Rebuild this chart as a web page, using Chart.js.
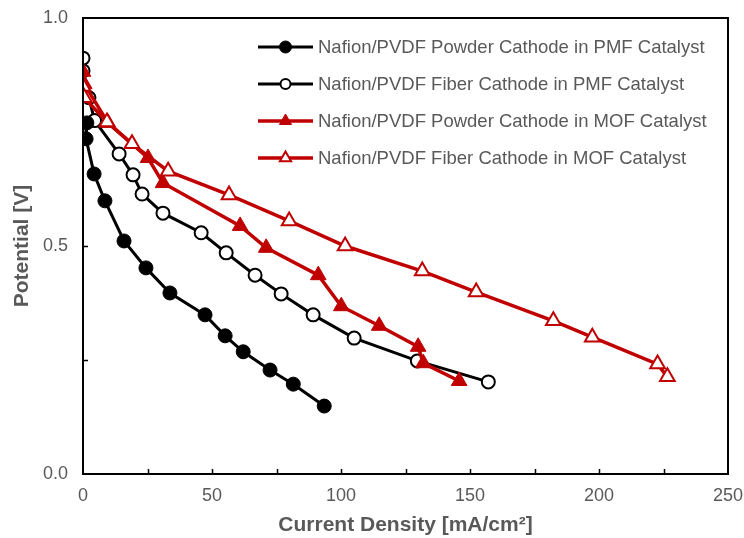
<!DOCTYPE html>
<html>
<head>
<meta charset="utf-8">
<script src="https://cdn.jsdelivr.net/npm/chart.js@4/dist/chart.umd.min.js"></script>
<style>
html,body{margin:0;padding:0;background:#fff;}
#wrap{width:744px;height:538px;position:relative;}
</style>
</head>
<body>
<div id="wrap"><canvas id="c" width="744" height="538"></canvas></div>
<script>
// ---- Data ----
const seriesLabels = [
  'Nafion/PVDF Powder Cathode in PMF Catalyst',
  'Nafion/PVDF Fiber Cathode in PMF Catalyst',
  'Nafion/PVDF Powder Cathode in MOF Catalyst',
  'Nafion/PVDF Fiber Cathode in MOF Catalyst'
];
const xPowderPMF = [1.5, 1.2, 4.3, 8.5, 15.9, 24.4, 33.7, 47.3, 55.1, 62.1, 72.5, 81.5, 93.5];
const yPowderPMF = [0.770, 0.735, 0.658, 0.599, 0.511, 0.452, 0.397, 0.349, 0.303, 0.268, 0.228, 0.197, 0.149];

const xFiberPMF = [0, 0, 2.3, 4.5, 14.0, 19.4, 22.9, 31.0, 45.8, 55.5, 66.7, 76.8, 89.2, 105.1, 129.6, 157.1];
const yFiberPMF = [0.912, 0.884, 0.825, 0.775, 0.702, 0.656, 0.614, 0.572, 0.529, 0.485, 0.436, 0.395, 0.349, 0.298, 0.248, 0.202];

const xPowderMOF = [0, 0.5, 9.7, 25.2, 31.0, 60.9, 71.0, 91.2, 100.1, 114.8, 129.9, 131.9, 145.8];
const yPowderMOF = [0.882, 0.855, 0.770, 0.693, 0.638, 0.544, 0.496, 0.436, 0.368, 0.325, 0.279, 0.243, 0.204];

const xFiberMOF = [0, 0.5, 9.3, 19.0, 33.0, 56.6, 79.9, 101.6, 131.5, 152.4, 182.3, 197.4, 222.7, 226.5];
const yFiberMOF = [0.850, 0.825, 0.772, 0.724, 0.664, 0.612, 0.555, 0.500, 0.445, 0.399, 0.336, 0.300, 0.241, 0.213];

const xTickValues = [0, 50, 100, 150, 200, 250];
const yTickValues = [0.0, 0.5, 1.0];
const xTitle = 'Current Density [mA/cm\u00B2]';
const yTitle = 'Potential [V]';

function pts(xs, ys){ return xs.map((x,i)=>({x:x, y:ys[i]})); }

const RED = '#C00000';
const GRAY = '#595959';
const FONT = "'Liberation Sans', Arial, sans-serif";

const datasets = [
  {label: seriesLabels[0], data: pts(xPowderPMF, yPowderPMF), borderColor:'#000', backgroundColor:'#000',
   pointStyle:'circle', pointRadius:7, pointBorderWidth:1, borderWidth:3, order:2, legendRadius:6},
  {label: seriesLabels[1], data: pts(xFiberPMF, yFiberPMF), borderColor:'#000', backgroundColor:'#000',
   pointBackgroundColor:'#fff', pointBorderColor:'#000',
   pointStyle:'circle', pointRadius:6.5, pointBorderWidth:2, borderWidth:3, order:2, legendRadius:5},
  {label: seriesLabels[2], data: pts(xPowderMOF, yPowderMOF), borderColor:RED, backgroundColor:RED,
   pointStyle:'triangle', pointRadius:9, pointBorderWidth:1, borderWidth:3.5, order:1, legendRadius:7},
  {label: seriesLabels[3], data: pts(xFiberMOF, yFiberMOF), borderColor:RED, backgroundColor:RED,
   pointBackgroundColor:'#fff', pointBorderColor:RED,
   pointStyle:'triangle', pointRadius:8.5, pointBorderWidth:2, borderWidth:3.5, order:0, legendRadius:6.5}
];

const frameAndTicks = {
  id:'frameAndTicks',
  afterDatasetsDraw(chart){
    const ctx = chart.ctx, a = chart.chartArea;
    const xs = chart.scales.x, ys = chart.scales.y;
    ctx.save();
    ctx.strokeStyle = '#000';
    ctx.lineWidth = 2;
    ctx.beginPath();
    ctx.rect(a.left, a.top, a.right - a.left, a.bottom - a.top);
    ctx.stroke();
    ctx.lineWidth = 1.5;
    ctx.beginPath();
    for (let v = xs.min + 25; v < xs.max; v += 25) {
      const px = Math.round(xs.getPixelForValue(v)) + 0.5;
      ctx.moveTo(px, a.bottom); ctx.lineTo(px, a.bottom - 5);
    }
    for (let v = ys.min + 0.25; v < ys.max - 1e-9; v += 0.25) {
      const py = Math.round(ys.getPixelForValue(v)) + 0.5;
      ctx.moveTo(a.left, py); ctx.lineTo(a.left + 5, py);
    }
    ctx.stroke();
    ctx.restore();
  }
};

const customLegend = {
  id:'customLegend',
  afterDraw(chart){
    const ctx = chart.ctx;
    ctx.save();
    chart.data.datasets.forEach((ds, i) => {
      const y = 47 + i * 37;
      ctx.strokeStyle = ds.borderColor;
      ctx.lineWidth = ds.borderWidth;
      ctx.beginPath(); ctx.moveTo(258, y); ctx.lineTo(313, y); ctx.stroke();
      ctx.fillStyle = ds.pointBackgroundColor || ds.backgroundColor;
      ctx.strokeStyle = ds.pointBorderColor || ds.borderColor;
      ctx.lineWidth = ds.pointBorderWidth;
      Chart.helpers.drawPoint(ctx, {pointStyle: ds.pointStyle, radius: ds.legendRadius, borderWidth: ds.pointBorderWidth, rotation:0}, 285.5, y);
      ctx.fillStyle = GRAY;
      ctx.font = "18.5px " + FONT;
      ctx.textBaseline = 'middle';
      ctx.textAlign = 'left';
      ctx.fillText(ds.label, 318, y + 1);
    });
    ctx.restore();
  }
};

new Chart(document.getElementById('c'), {
  type:'scatter',
  data:{datasets},
  options:{
    responsive:false,
    animation:false,
    showLine:true,
    layout:{padding:{top:18, right:16, left:0, bottom:0}},
    plugins:{legend:{display:false}, tooltip:{enabled:false}},
    elements:{line:{tension:0}},
    scales:{
      x:{
        type:'linear', min:0, max:250,
        afterBuildTicks(s){ s.ticks = xTickValues.map(v=>({value:v})); },
        afterFit(s){ s.height = 64; s.paddingLeft = 0; s.paddingRight = 0; },
        grid:{display:false, drawTicks:false},
        border:{display:false},
        ticks:{color:GRAY, font:{family:FONT, size:18}, padding:11, maxRotation:0},
        title:{display:true, text:xTitle, color:GRAY, font:{family:FONT, size:21, weight:'bold'}, padding:{top:0,bottom:0}}
      },
      y:{
        type:'linear', min:0, max:1,
        afterBuildTicks(s){ s.ticks = yTickValues.map(v=>({value:v})); },
        afterFit(s){ s.width = 83; s.paddingTop = 0; s.paddingBottom = 0; },
        grid:{display:false, drawTicks:false},
        border:{display:false},
        ticks:{color:GRAY, font:{family:FONT, size:18}, padding:15, callback:v=>Number(v).toFixed(1)},
        title:{display:true, text:yTitle, color:GRAY, font:{family:FONT, size:21, weight:'bold'}, padding:{top:10,bottom:0}}
      }
    }
  },
  plugins:[frameAndTicks, customLegend]
});
</script>
</body>
</html>
